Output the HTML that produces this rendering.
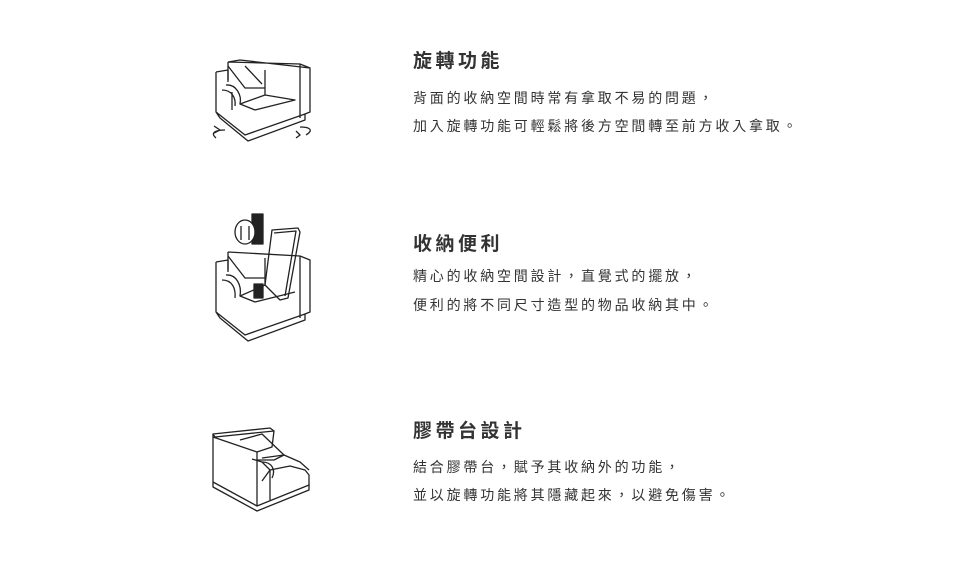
<!DOCTYPE html>
<html><head><meta charset="utf-8"><style>
body{margin:0;width:960px;height:563px;background:#fff;position:relative;overflow:hidden;font-family:"Liberation Sans","Noto Sans CJK TC",sans-serif;color:#333}
.t{position:absolute;left:413px;font-size:19px;font-weight:bold;letter-spacing:3.5px;line-height:24px;white-space:nowrap}
.p{position:absolute;left:413px;font-size:14px;letter-spacing:2.8px;line-height:20px;white-space:nowrap;color:#333}
svg{position:absolute;left:0;top:0}
</style></head><body>
<svg width="960" height="563" fill="none" stroke="#222" stroke-width="1.3" stroke-linejoin="round">
<!-- icon 1 -->
<path d="M228 62 L300 64 L310 68 L310 112 L305 114 M228 62 L228 82 M300 64 L300 118 M228 62 L240 60 L310 68"/>
<path d="M216 72 L228 70 L228 80 M216 72 L216 112 L245 135 L305 114 L305 120 L248 141 L220 118 L216 112"/>
<path d="M228 66 L245 88 L265 88 L265 70 M245 66 L262 84 M265 88 L265 95 L240 104 L255 110 L295 100 L265 95"/>
<path d="M226 85 C236 84 242 95 240 104 M222 90 C232 90 236 98 235 106 M232 92 L232 110"/>
<path d="M225 130 C215 130 210 133 216 138 M214 126 L220 130 L214 133"/>
<path d="M300 127 C310 127 314 130 306 135 M296 131 L300 135 L296 138"/>
<!-- icon 2 -->
<path d="M252 214 L263 214 L263 244 L252 244 Z" fill="#222"/>
<ellipse cx="245" cy="232" rx="10" ry="12" fill="#fff"/>
<path d="M241 226 L241 240 M249 226 L249 240"/>
<path d="M272 230 L298 228 L300 232 L288 298 L280 300 L265 285 Z" fill="#fff"/>
<path d="M274 233 L296 231 L285 296"/>
<path d="M228 252 L300 256 L310 260 L310 312 L305 314 M300 256 L300 318 M228 252 L228 272"/>
<path d="M216 262 L228 260 L228 270 M216 262 L216 312 L245 335 L305 314 L305 320 L248 341 L220 318 L216 312"/>
<path d="M228 256 L245 278 L265 278 L265 258 M265 278 L265 285 L240 296 L255 302 L295 292"/>
<path d="M226 275 C236 274 242 285 240 296 M222 280 C232 280 236 288 235 298"/>
<rect x="254" y="284" width="9" height="14" fill="#222"/>
<!-- icon 3 -->
<path d="M213 434 L270 428 L274 431 L215 437 Z"/>
<path d="M213 434 L213 482 L257 506 L257 452 L213 437"/>
<path d="M213 482 L213 487 L257 511 L309 490 L309 485 L257 506"/>
<path d="M257 452 L272 447 L274 431 M240 440 L262 434 L284 455 L274 460 L257 460"/>
<path d="M252 459 L262 462 L270 470 L262 481 M270 470 L290 466 L305 470 L309 475 L309 486 M262 458 L284 455 L300 462 L309 470 M270 470 L270 500"/>
<path d="M262 462 C272 462 276 470 272 478"/>
</svg>
<div class="t" style="top:50px">旋轉功能</div>
<div class="p" style="top:88px">背面的收納空間時常有拿取不易的問題，</div>
<div class="p" style="top:116px">加入旋轉功能可輕鬆將後方空間轉至前方收入拿取。</div>
<div class="t" style="top:233px">收納便利</div>
<div class="p" style="top:266px">精心的收納空間設計，直覺式的擺放，</div>
<div class="p" style="top:295px">便利的將不同尺寸造型的物品收納其中。</div>
<div class="t" style="top:420px">膠帶台設計</div>
<div class="p" style="top:457px">結合膠帶台，賦予其收納外的功能，</div>
<div class="p" style="top:485px">並以旋轉功能將其隱藏起來，以避免傷害。</div>
</body></html>
